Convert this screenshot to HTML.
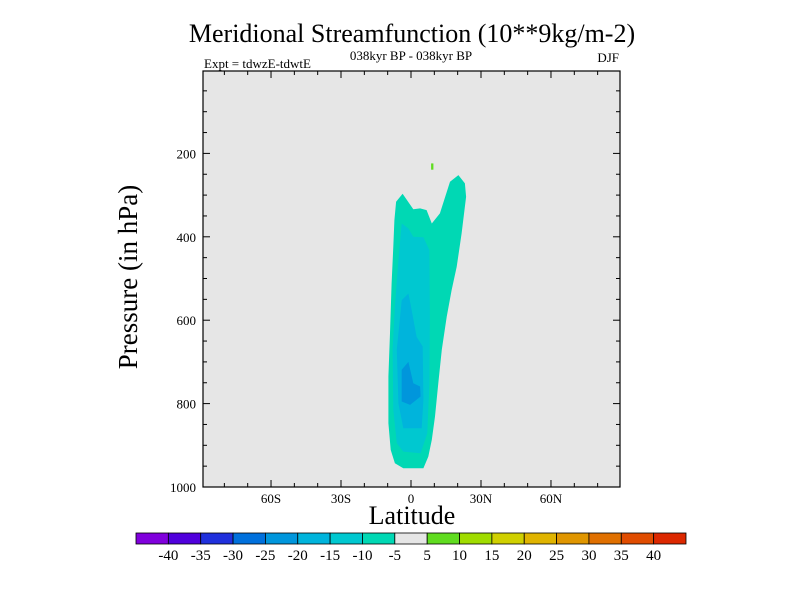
<!DOCTYPE html>
<html><head><meta charset="utf-8"><style>
body{margin:0;background:#fff;}
svg{display:block;font-family:"Liberation Serif",serif;}
</style></head><body>
<svg id="c" width="800" height="600" xmlns="http://www.w3.org/2000/svg">
<text x="412" y="42" font-size="26" text-anchor="middle">Meridional Streamfunction (10**9kg/m-2)</text>
<text x="411" y="60" font-size="13" text-anchor="middle">038kyr BP - 038kyr BP</text>
<text x="204" y="68" font-size="13">Expt = tdwzE-tdwtE</text>
<text x="619" y="62" font-size="13" text-anchor="end">DJF</text>
<rect x="203" y="71" width="417" height="416" fill="#e6e6e6"/>
<g id="fills"></g>
<rect x="203" y="71" width="417" height="416" fill="none" stroke="#000" stroke-width="1.2"/>
<g id="ticks" stroke="#000" stroke-width="1"></g>
<g id="labels" font-size="13"></g>
<text x="412" y="524" font-size="26" text-anchor="middle">Latitude</text>
<text transform="translate(137,277) rotate(-90)" font-size="27" text-anchor="middle">Pressure (in hPa)</text>
<g id="cbar"></g>
</svg>
<script>
const NS="http://www.w3.org/2000/svg";
const xTicks=[-60,-30,0,30,60];
const xTickLabels=["60S","30S","0","30N","60N"];
const yTicks=[200,400,600,800,1000];
const cbLevels=[-40,-35,-30,-25,-20,-15,-10,-5,5,10,15,20,25,30,35,40];
const cbColors=["#8000dc","#5000dc","#2030dc","#0070dc","#0096dc","#00b4dc","#00c8d0","#00d8b4","#e6e6e6","#60dc20","#a0dc00","#d0d000","#e0b400","#e09600","#e07000","#e04c00","#dc2800"];
// contour regions in (lat, hPa)
const regionLevels=[-7.5,-12.5,-17.5,-22.5,7.5];
const regionColors=["#00d8b4","#00c8d0","#00b4dc","#0096dc","#60dc20"];
const regionLat=[
[-6.4,-3.6,1.0,3.9,6.7,8.9,12.4,16.7,20.3,23.1,23.6,21.7,19.6,17.4,15.3,13.2,11.7,10.3,8.9,7.4,5.3,-3.3,-6.9,-8.7,-9.7,-9.7,-9.0,-8.3,-7.6,-7.1],
[-4.0,-1.1,1.0,5.3,7.9,8.1,7.9,7.0,4.1,-3.3,-6.1,-7.6,-7.9,-6.9,-5.4],
[-1.1,0.3,2.4,5.0,5.3,4.6,-3.3,-5.4,-6.1,-4.0],
[-1.1,1.0,3.9,4.1,-0.4,-4.0,-4.0],
[8.6,9.6,9.6,8.6]];
const regionP=[
[316,297,334,332,336,368,344,268,252,272,304,392,472,528,592,671,751,831,887,927,955,955,943,911,847,735,631,512,424,360],
[368,380,400,401,432,592,751,871,919,915,895,815,671,568,456],
[536,576,640,663,791,859,859,799,671,552],
[700,751,759,783,803,795,719],
[224,224,239,239]];
const X=lat=>411+lat*2.333, Y=p=>70+p*0.417;
const fills=document.getElementById('fills');
regionLat.forEach((la,i)=>{
 const pg=document.createElementNS(NS,'polygon');
 pg.setAttribute('points',la.map((v,j)=>X(v).toFixed(1)+','+Y(regionP[i][j]).toFixed(1)).join(' '));
 pg.setAttribute('fill',regionColors[i]);
 
 
 fills.appendChild(pg);
});
const tk=document.getElementById('ticks'), lb=document.getElementById('labels');
function line(x1,y1,x2,y2){const l=document.createElementNS(NS,'line');l.setAttribute('x1',x1);l.setAttribute('y1',y1);l.setAttribute('x2',x2);l.setAttribute('y2',y2);


tk.appendChild(l);}
for(let lat=-80;lat<=80;lat+=10){const x=X(lat),m=lat%30===0?7:4;line(x,487,x,487-m);line(x,71,x,71+m);}
for(let p=50;p<1000;p+=50){const y=Y(p),m=p%200===0?7:4;line(203,y,203+m,y);line(620,y,620-m,y);}
xTicks.forEach((v,i)=>{const t=document.createElementNS(NS,'text');t.setAttribute('x',X(v));t.setAttribute('y',503);t.setAttribute('text-anchor','middle');t.textContent=xTickLabels[i];


lb.appendChild(t);});
yTicks.forEach(v=>{const t=document.createElementNS(NS,'text');t.setAttribute('x',196);t.setAttribute('y',Y(v)+5);t.setAttribute('text-anchor','end');t.textContent=v;


lb.appendChild(t);});
const cb=document.getElementById('cbar');const w=550/cbColors.length;
cbColors.forEach((c,i)=>{const r=document.createElementNS(NS,'rect');r.setAttribute('x',136+i*w);r.setAttribute('y',533);r.setAttribute('width',w);r.setAttribute('height',11);r.setAttribute('fill',c);r.setAttribute('stroke','#000');r.setAttribute('stroke-width','0.8');


cb.appendChild(r);});
cbLevels.forEach((v,i)=>{const t=document.createElementNS(NS,'text');t.setAttribute('x',136+(i+1)*w);t.setAttribute('y',560);t.setAttribute('text-anchor','middle');t.setAttribute('font-size','15');t.textContent=v;


cb.appendChild(t);});
</script>
</body></html>
